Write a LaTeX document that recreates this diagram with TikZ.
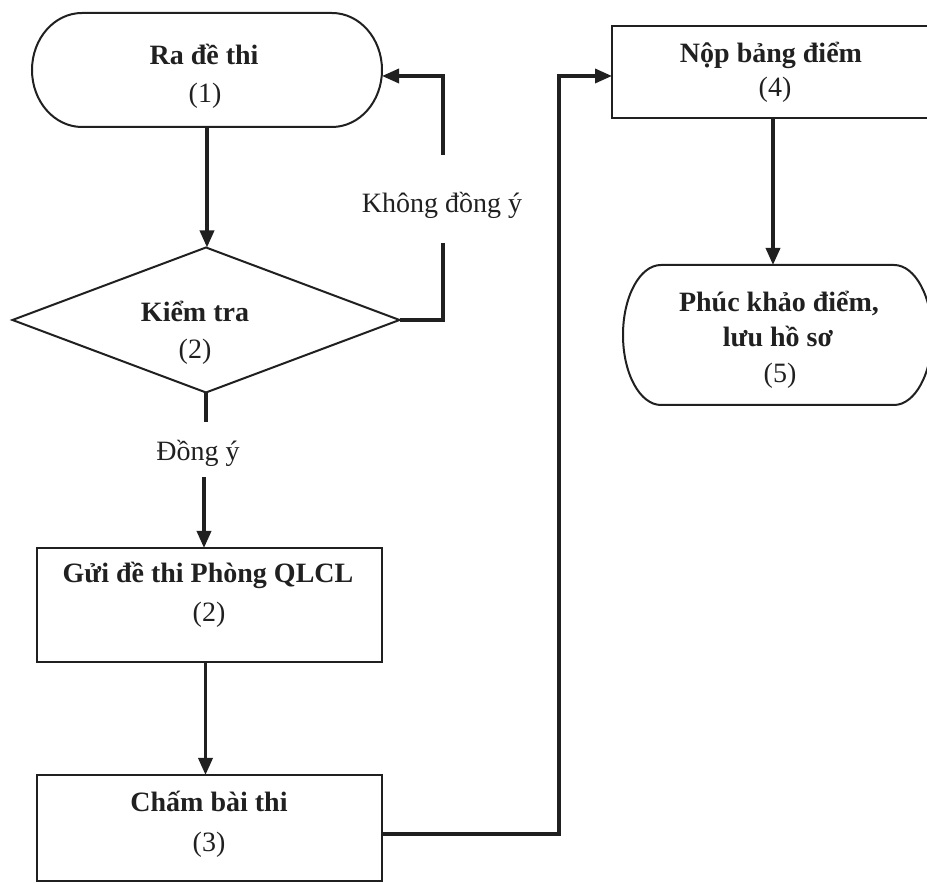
\documentclass[tikz,border=0pt]{standalone}
\usepackage{fontspec}
\setmainfont{Liberation Serif}
\usetikzlibrary{arrows.meta}
\definecolor{ink}{RGB}{32,32,32}
\begin{document}
\begin{tikzpicture}[x=1pt,y=1pt,
  ghost/.style={draw=none, rectangle, inner sep=0pt, outer sep=0pt},
  boxshape/.style={draw=ink, line width=2pt, rectangle, inner sep=0pt, outer sep=0pt},
  outline/.style={draw=ink, line width=2pt},
  txtb/.style={anchor=base, inner sep=0pt, text=ink, font=\fontsize{28}{34}\selectfont\bfseries},
  txtr/.style={anchor=base, inner sep=0pt, text=ink, font=\fontsize{28}{34}\selectfont},
  conn/.style={draw=ink, line width=3.5pt},
  arr/.style={conn, -{Triangle[length=17pt,width=14pt]}}
]
\useasboundingbox (0,0) rectangle (927,883);
\clip (0,0) rectangle (927,883);

% shapes
\node[ghost, minimum width=350pt, minimum height=114pt] (s1) at (207,813) {};
\draw[outline] ([xshift=50pt]s1.north west) -- ([xshift=-50pt]s1.north east)
  arc[start angle=90, end angle=-90, x radius=50pt, y radius=57pt]
  -- ([xshift=50pt]s1.south west)
  arc[start angle=270, end angle=90, x radius=50pt, y radius=57pt] -- cycle;

\node[ghost, minimum width=387pt, minimum height=145pt] (s2) at (206,563) {};
\draw[outline, line join=miter] (s2.north) -- (s2.east) -- (s2.south) -- (s2.west) -- cycle;

\node[boxshape, minimum width=345pt, minimum height=114pt] (s3) at (209.5,278) {};
\node[boxshape, minimum width=345pt, minimum height=106pt] (s4) at (209.5,55) {};
\node[boxshape, minimum width=330pt, minimum height=92pt] (s5) at (777,811) {};

\node[ghost, minimum width=309pt, minimum height=140pt] (s6) at (777.5,548) {};
\draw[outline] ([xshift=38pt]s6.north west) -- ([xshift=-38pt]s6.north east)
  arc[start angle=90, end angle=-90, x radius=38pt, y radius=70pt]
  -- ([xshift=38pt]s6.south west)
  arc[start angle=270, end angle=90, x radius=38pt, y radius=70pt] -- cycle;

% texts
\node[txtb] (t1a) at (204,818) {Ra đề thi};
\node[txtr] (t1b) at (205,780) {(1)};
\node[txtb] (t2a) at (195,561) {Kiểm tra};
\node[txtr] (t2b) at (195,524) {(2)};
\node[txtr] (lno) at (442,670) {Không đồng ý};
\node[txtr] (lyes) at (198,422) {Đồng ý};
\node[txtb] (t3a) at (208,300) {Gửi đề thi Phòng QLCL};
\node[txtr] (t3b) at (209,261) {(2)};
\node[txtb] (t4a) at (209,71) {Chấm bài thi};
\node[txtr] (t4b) at (209,31) {(3)};
\node[txtb] (t5a) at (771,820) {Nộp bảng điểm};
\node[txtr] (t5b) at (775,786) {(4)};
\node[txtb] (t6a) at (779,571) {Phúc khảo điểm,};
\node[txtb] (t6b) at (778,536) {lưu hồ sơ};
\node[txtr] (t6c) at (780,500) {(5)};

% connector helper points
\coordinate (y1) at (204,461);
\coordinate (y2) at (204,406);
\coordinate (n1) at (443,640);
\coordinate (n2) at (443,728);
\coordinate (k1) at (559,49);

% connectors
\draw[arr] (s1.south) -- (s1.south |- s2.north);
\draw[conn] (s2.south) -- (s2.south |- y1);
\draw[arr] (y2) -- (y2 |- s3.north);
\draw[arr] ([xshift=-4pt]s3.south) -- ([xshift=-4pt]s3.south |- s4.north);
\draw[conn] (s2.east) -| (n1);
\draw[arr] (n2) |- ([yshift=-6pt]s1.east);
\draw[arr] ([yshift=-6pt]s4.east) -- (k1) |- ([yshift=-4pt]s5.west);
\draw[arr] ([xshift=-4pt]s5.south) -- ([xshift=-4pt]s5.south |- s6.north);
\end{tikzpicture}
\end{document}
